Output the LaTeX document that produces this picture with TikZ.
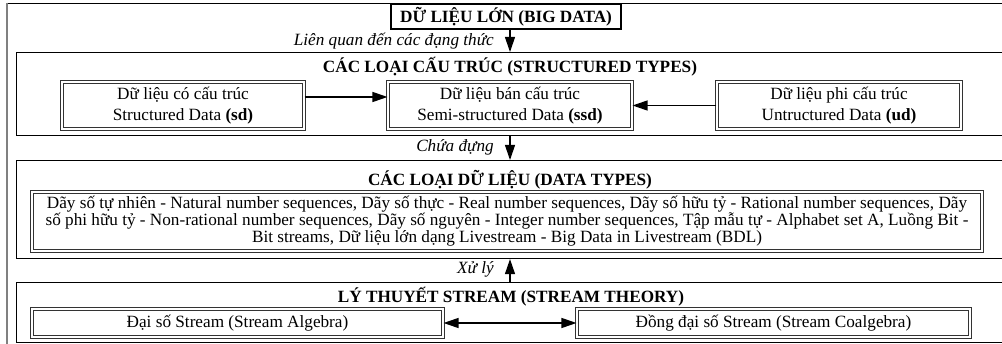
\documentclass[tikz,border=0pt]{standalone}
\usepackage{fontspec}
\setmainfont{Liberation Serif}
\usetikzlibrary{arrows.meta}
\begin{document}
\begin{tikzpicture}[x=1pt,y=-1pt,
  every node/.style={font=\fontsize{17.2}{21}\selectfont, inner sep=0pt},
  cont/.style={draw=black, line width=1.1pt, anchor=north west, minimum width=992pt},
  dbox/.style={draw=black!80, double=white, double distance=1.3pt, line width=1.1pt},
  ttl/.style={font=\fontsize{17.2}{21}\selectfont\bfseries},
  lbl/.style={font=\fontsize{17.2}{21}\selectfont\itshape, anchor=east},
  arr/.style={line width=1.2pt, -{Triangle[length=15pt,width=10pt]}},
  darr/.style={line width=1.2pt, {Triangle[length=15pt,width=10pt]}-{Triangle[length=15pt,width=10pt]}}
]
\useasboundingbox (0,0) rectangle (1002,344);
\clip (0,0) rectangle (1002,344);
% outer frame
\draw[black, line width=1.2pt] (7,3.6) -- (1006,3.6);
\draw[gray, line width=2pt] (7,2.6) -- (7,348);
% big data
\node[draw, line width=1.3pt, minimum width=230pt, minimum height=25pt, ttl] (big) at (506,16.5) {DỮ LIỆU LỚN (BIG DATA)};
% containers
\node[cont, minimum height=83pt] (struct) at (16,52) {};
\node[cont, minimum height=98pt] (dtypes) at (16,160) {};
\node[cont, minimum height=60pt] (stream) at (16,282) {};
% titles
\node[ttl] (t1) at (510,67) {CÁC LOẠI CẤU TRÚC (STRUCTURED TYPES)};
\node[ttl] (t2) at (510,180) {CÁC LOẠI DỮ LIỆU (DATA TYPES)};
\node[ttl] (t3) at (511,297) {LÝ THUYẾT STREAM (STREAM THEORY)};
% structured boxes
\node[dbox, minimum width=242pt, minimum height=47pt, align=center] (sd) at (183,105.5) {Dữ liệu có cấu trúc\\Structured Data \textbf{(sd)}};
\node[dbox, minimum width=244pt, minimum height=47pt, align=center] (ssd) at (510,105.5) {Dữ liệu bán cấu trúc\\Semi-structured Data \textbf{(ssd)}};
\node[dbox, minimum width=244pt, minimum height=47pt, align=center] (ud) at (839,105.5) {Dữ liệu phi cấu trúc\\Untructured Data \textbf{(ud)}};
% data types box
\node[dbox, minimum width=950pt, minimum height=59pt] (dbox) at (507,221.5) {};
\node[anchor=north, align=center, font=\fontsize{17.2}{12.5}\selectfont] (dtext) at ([yshift=-4pt]dbox.north) {Dãy số tự nhiên - Natural number sequences, Dãy số thực - Real number sequences, Dãy số hữu tỷ - Rational number sequences, Dãy\\số phi hữu tỷ - Non-rational number sequences, Dãy số nguyên - Integer number sequences, Tập mẫu tự - Alphabet set A, Luồng Bit -\\Bit streams, Dữ liệu lớn dạng Livestream - Big Data in Livestream (BDL)};
% stream boxes
\node[dbox, minimum width=411pt, minimum height=28pt] (alg) at (237.5,323) {Đại số Stream (Stream Algebra)};
\node[dbox, minimum width=393pt, minimum height=28pt] (coalg) at (773.5,323) {Đồng đại số Stream (Stream Coalgebra)};
% labels
\node[lbl] (l1) at (494,41) {Liên quan đến các đạng thức};
\node[lbl] (l2) at (494,147) {Chứa đựng};
\node[lbl] (l3) at (494,269) {Xử lý};
% arrows
\draw[arr] (big.south -| ssd.center) -- (struct.north -| ssd.center);
\draw[arr] ([yshift=8.5pt]sd.east) -- ([yshift=8.5pt]sd.east -| ssd.west);
\draw[arr] (ud.west) -- (ssd.east);
\draw[arr] (struct.south -| ssd.center) -- (dtypes.north -| ssd.center);
\draw[arr] (stream.north -| ssd.center) -- (dtypes.south -| ssd.center);
\draw[darr] (alg) -- (coalg);
\end{tikzpicture}
\end{document}
